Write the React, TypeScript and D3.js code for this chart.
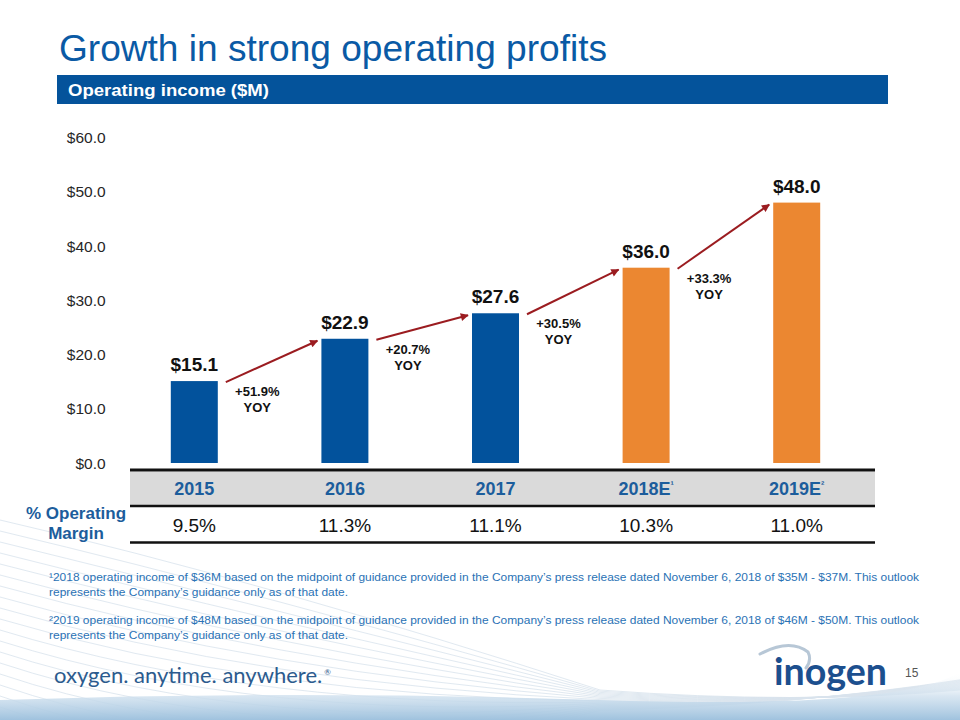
import React from "react";
import * as d3 from "d3";

const years = ["2015", "2016", "2017", "2018E", "2019E"];
const yearNotes = ["", "", "", "¹", "²"];
const operatingIncome = [15.1, 22.9, 27.6, 36.0, 48.0];
const isEstimate = [false, false, false, true, true];
const yoyGrowth = ["+51.9%", "+20.7%", "+30.5%", "+33.3%"];
const operatingMargin = [9.5, 11.3, 11.1, 10.3, 11.0];
const yTicks = [0, 10, 20, 30, 40, 50, 60];
const footnotes = [
  ["¹2018 operating income of $36M based on the midpoint of guidance provided in the Company’s press release dated November 6, 2018 of $35M - $37M. This outlook", "represents the Company’s guidance only as of that date."],
  ["²2019 operating income of $48M based on the midpoint of guidance provided in the Company’s press release dated November 6, 2018 of $46M - $50M. This outlook", "represents the Company’s guidance only as of that date."],
];

const W = 960;
const H = 720;
const FONT = "'Liberation Sans', Arial, sans-serif";
const BLUE = "#02529c";
const ORANGE = "#eb8731";
const ARROW = "#9b1c20";
const TITLE = "#0a5aa5";
const TABLE_BLUE = "#1c5d9c";
const NOTE = "#2a72b5";

export default function App() {
  const x = d3
    .scaleBand<string>()
    .domain(years)
    .range([119, 872])
    .paddingInner(0.688)
    .paddingOuter(0.344);
  const y = d3.scaleLinear().domain([0, 60]).range([463, 137.5]);
  const bw = x.bandwidth();
  const fmt = d3.format(".1f");
  const cx = (i: number) => (x(years[i]) as number) + bw / 2;

  const fanLines = d3.range(18).map((i) => {
    const y0 = 520 + i * 11;
    const path = d3.path();
    path.moveTo(0, y0);
    path.quadraticCurveTo(260, y0 + 60 + i * 2, 600, 690 + i * 1.2);
    path.quadraticCurveTo(800, 705, 960, 690 - i * 0.6);
    return path.toString();
  });

  return (
    <svg
      width={W}
      height={H}
      viewBox={`0 0 ${W} ${H}`}
      style={{ position: "absolute", left: 0, top: 0, background: "#fff" }}
      fontFamily={FONT}
    >
      <defs>
        <marker
          id="ah"
          viewBox="0 0 10 10"
          refX="9"
          refY="5"
          markerWidth="10"
          markerHeight="8"
          markerUnits="userSpaceOnUse"
          orient="auto"
        >
          <path d="M0,0 L10,5 L0,10 z" fill={ARROW} />
        </marker>
        <linearGradient id="band" x1="0" y1="0" x2="0" y2="1">
          <stop offset="0" stopColor="#ffffff" stopOpacity="0" />
          <stop offset="0.5" stopColor="#cfe0ee" stopOpacity="0.8" />
          <stop offset="1" stopColor="#9fc2de" stopOpacity="1" />
        </linearGradient>
      </defs>

      {/* background decoration */}
      <g fill="none" stroke="#c9d8e6" strokeWidth={0.8} opacity={0.7}>
        {fanLines.map((d, i) => (
          <path key={i} d={d} />
        ))}
      </g>
      <path
        d={`M0,700 Q300,690 600,700 T960,672 L960,720 L0,720 Z`}
        fill="url(#band)"
      />

      {/* title */}
      <text x={59} y={61} fontSize={37} fill={TITLE} textLength={548} lengthAdjust="spacingAndGlyphs">
        Growth in strong operating profits
      </text>
      <rect x={57} y={75} width={831} height={29} fill="#04539b" />
      <text x={68} y={96} fontSize={17} fontWeight="bold" fill="#fff" textLength={201} lengthAdjust="spacingAndGlyphs">
        Operating income ($M)
      </text>

      {/* y axis labels */}
      {yTicks.map((t) => (
        <text key={t} x={105.6} y={y(t)} dy="0.36em" textAnchor="end" fontSize={15.5} fill="#262626">
          {"$" + fmt(t)}
        </text>
      ))}

      {/* bars */}
      {operatingIncome.map((v, i) => (
        <rect
          key={years[i]}
          x={x(years[i])}
          y={y(v)}
          width={bw}
          height={y(0) - y(v)}
          fill={isEstimate[i] ? ORANGE : BLUE}
        />
      ))}

      {/* value labels */}
      {operatingIncome.map((v, i) => (
        <text
          key={"v" + i}
          x={cx(i)}
          y={y(v) - 10}
          textAnchor="middle"
          fontSize={19}
          fontWeight="bold"
          fill="#111"
        >
          {"$" + fmt(v)}
        </text>
      ))}

      {/* growth arrows */}
      {yoyGrowth.map((g, i) => (
        <line
          key={"a" + i}
          x1={(x(years[i]) as number) + bw + 8}
          y1={y(operatingIncome[i]) + 1}
          x2={(x(years[i + 1]) as number) - 4}
          y2={y(operatingIncome[i + 1]) + 2}
          stroke={ARROW}
          strokeWidth={2}
          markerEnd="url(#ah)"
        />
      ))}

      {/* YOY labels */}
      {yoyGrowth.map((g, i) => (
        <text
          key={"g" + i}
          x={cx(i) + 63}
          y={y(operatingIncome[i]) + 15}
          textAnchor="middle"
          fontSize={13}
          fontWeight="bold"
          fill="#111"
        >
          <tspan x={cx(i) + 63}>{g}</tspan>
          <tspan x={cx(i) + 63} dy={16}>
            YOY
          </tspan>
        </text>
      ))}

      {/* table */}
      <rect x={130} y={471.5} width={745} height={34} fill="#dadada" />
      <line x1={130} x2={875} y1={470} y2={470} stroke="#111" strokeWidth={3} />
      <line x1={130} x2={875} y1={506} y2={506} stroke="#111" strokeWidth={2.5} />
      <line x1={130} x2={875} y1={542.5} y2={542.5} stroke="#111" strokeWidth={2.5} />
      {years.map((yr, i) => (
        <text
          key={"h" + yr}
          x={cx(i)}
          y={495}
          textAnchor="middle"
          fontSize={18}
          fontWeight="bold"
          fill={TABLE_BLUE}
        >
          {yr}
          {yearNotes[i] && (
            <tspan fontSize={10} dy={-7}>
              {yearNotes[i]}
            </tspan>
          )}
        </text>
      ))}
      {operatingMargin.map((m, i) => (
        <text key={"m" + i} x={cx(i)} y={532} textAnchor="middle" fontSize={19} fill="#111">
          {fmt(m) + "%"}
        </text>
      ))}
      <text x={76} y={519} textAnchor="middle" fontSize={17} fontWeight="bold" fill={TABLE_BLUE}>
        % Operating
      </text>
      <text x={76} y={539} textAnchor="middle" fontSize={17} fontWeight="bold" fill={TABLE_BLUE}>
        Margin
      </text>

      {/* footnotes */}
      {footnotes.map((lines, k) => (
        <g key={"f" + k}>
          <text x={49} y={581 + k * 43} fontSize={11} fill={NOTE} textLength={870} lengthAdjust="spacingAndGlyphs">
            {lines[0]}
          </text>
          <text x={49} y={595.5 + k * 43} fontSize={11} fill={NOTE} textLength={299} lengthAdjust="spacingAndGlyphs">
            {lines[1]}
          </text>
        </g>
      ))}

      {/* tagline & logo */}
      <text x={54} y={683} fontSize={22} fill="#2c5b8e" fontFamily="Lato, 'Open Sans', sans-serif">
        oxygen. anytime. anywhere.
        <tspan fontSize={8} dy={-8} dx={2}>®</tspan>
      </text>
      <path
        d="M760,654 Q790,638 808,652 Q812,660 806,668"
        fill="none"
        stroke="#b7c7d6"
        strokeWidth={3}
        strokeLinecap="round"
      />
      <text x={774} y={685} fontSize={38} fontWeight="bold" fill="#1c4f8e" fontFamily="Lato, 'Noto Sans', sans-serif" textLength={113} lengthAdjust="spacingAndGlyphs">
        inogen
      </text>
      <text x={905} y={677} fontSize={12} fill="#555">
        15
      </text>
    </svg>
  );
}
